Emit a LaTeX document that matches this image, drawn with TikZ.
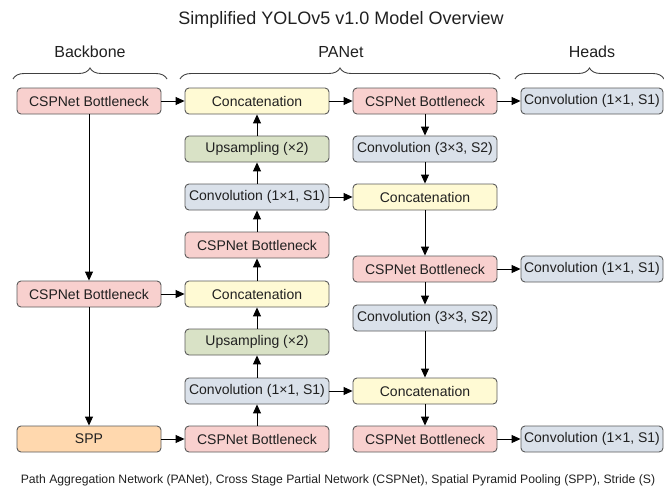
\documentclass[tikz,border=0pt]{standalone}
\usepackage{fontspec}
\setmainfont{Liberation Sans}
\usetikzlibrary{arrows.meta,decorations.pathreplacing}
\definecolor{cpink}{HTML}{F8D0CE}
\definecolor{corange}{HTML}{FFD8AE}
\definecolor{cgreen}{HTML}{D9E2C6}
\definecolor{cyellow}{HTML}{FFFAD4}
\definecolor{cblue}{HTML}{DAE1EA}
\definecolor{cborder}{HTML}{5A5A5A}
\definecolor{ctext}{HTML}{202020}
\tikzset{
  blk/.style={draw=cborder, line width=0.9pt, rounded corners=4pt, minimum width=144pt, minimum height=26pt, inner sep=0pt, text=ctext, font=\fontsize{14}{16}\selectfont},
  csp/.style={blk, fill=cpink},
  sppbox/.style={blk, fill=corange},
  upbox/.style={blk, fill=cgreen},
  catbox/.style={blk, fill=cyellow},
  convbox/.style={blk, fill=cblue},
  headbox/.style={convbox, minimum width=142pt},
  arr/.style={-{Triangle[length=9pt,width=8pt]}, line width=1pt, black},
  brc/.style={decorate, decoration={brace, amplitude=11pt}, line width=0.9pt, draw=black!75},
  sect/.style={font=\fontsize{16}{18}\selectfont, text=ctext}
}
\begin{document}
\begin{tikzpicture}[x=1pt,y=-1pt]
\useasboundingbox (0,0) rectangle (664,487);
\node[font=\fontsize{18}{20}\selectfont, text=ctext] (title) at (341,20) {Simplified YOLOv5 v1.0 Model Overview};
\node[sect] (lbb) at (90,52) {Backbone};
\node[sect] (lpa) at (341,52) {PANet};
\node[sect] (lhd) at (592,52) {Heads};
\coordinate (bb1) at (13,79); \coordinate (bb2) at (167,79);
\coordinate (pa1) at (180,79); \coordinate (pa2) at (500,79);
\coordinate (hd1) at (515,79); \coordinate (hd2) at (664,79);
\draw[brc] (bb1) -- (bb2);
\draw[brc] (pa1) -- (pa2);
\draw[brc] (hd1) -- (hd2);
% backbone
\node[csp] (b1) at (89,101) {CSPNet Bottleneck};
\node[csp] (b2) at (89,294) {CSPNet Bottleneck};
\node[sppbox] (spp) at (89,439) {SPP};
% PANet top-down
\node[catbox] (c1) at (257,101) {Concatenation};
\node[upbox] (u1) at (257,149) {Upsampling (×2)};
\node[convbox] (v1) at (257,197) {Convolution (1×1, S1)};
\node[csp] (p1) at (257,245) {CSPNet Bottleneck};
\node[catbox] (c2) at (257,294) {Concatenation};
\node[upbox] (u2) at (257,342) {Upsampling (×2)};
\node[convbox] (v2) at (257,391) {Convolution (1×1, S1)};
\node[csp] (p2) at (257,439) {CSPNet Bottleneck};
% PANet bottom-up
\node[csp] (q1) at (425,101) {CSPNet Bottleneck};
\node[convbox] (d1) at (425,149) {Convolution (3×3, S2)};
\node[catbox] (e1) at (425,197) {Concatenation};
\node[csp] (q2) at (425,269) {CSPNet Bottleneck};
\node[convbox] (d2) at (425,318) {Convolution (3×3, S2)};
\node[catbox] (e2) at (425,391) {Concatenation};
\node[csp] (q3) at (425,439) {CSPNet Bottleneck};
% heads
\node[headbox] (h1) at (592,101) {Convolution (1×1, S1)};
\node[headbox] (h2) at (592,269) {Convolution (1×1, S1)};
\node[headbox] (h3) at (592,439) {Convolution (1×1, S1)};
% connectors
\draw[arr] (b1) -- (b2);
\draw[arr] (b2) -- (spp);
\draw[arr] (b1) -- (c1);
\draw[arr] (b2) -- (c2);
\draw[arr] (spp) -- (p2);
\draw[arr] (p2) -- (v2);
\draw[arr] (v2) -- (u2);
\draw[arr] (u2) -- (c2);
\draw[arr] (c2) -- (p1);
\draw[arr] (p1) -- (v1);
\draw[arr] (v1) -- (u1);
\draw[arr] (u1) -- (c1);
\draw[arr] (c1) -- (q1);
\draw[arr] (v1) -- (e1);
\draw[arr] (v2) -- (e2);
\draw[arr] (q1) -- (d1);
\draw[arr] (d1) -- (e1);
\draw[arr] (e1) -- (q2);
\draw[arr] (q2) -- (d2);
\draw[arr] (d2) -- (e2);
\draw[arr] (e2) -- (q3);
\draw[arr] (q1) -- (h1);
\draw[arr] (q2) -- (h2);
\draw[arr] (q3) -- (h3);
\node[font=\fontsize{12.2}{14}\selectfont, text=ctext] (cap) at (338,480) {Path Aggregation Network (PANet), Cross Stage Partial Network (CSPNet), Spatial Pyramid Pooling (SPP), Stride (S)};
\end{tikzpicture}
\end{document}
